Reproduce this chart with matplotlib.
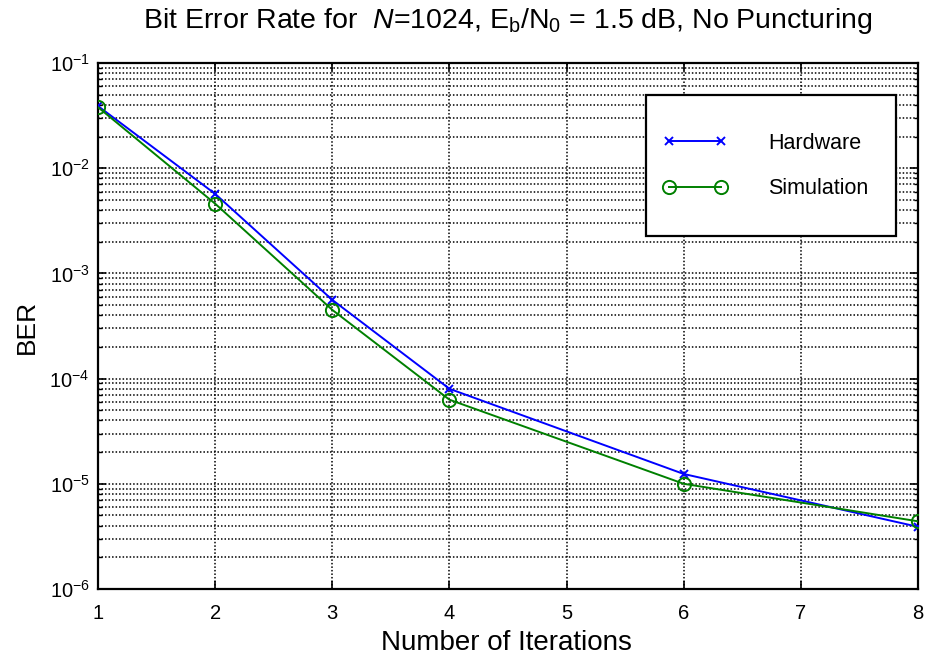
import numpy as np
import matplotlib
matplotlib.use("Agg")
import matplotlib.pyplot as plt
import matplotlib.patches as mpatches

# ─────────────────────────────────────────────
# DATA
# ─────────────────────────────────────────────
iterations = [1, 2, 3, 4, 6, 8]
ber_hardware = [3.9e-2, 5.7e-3, 5.6e-4, 8.0e-5, 1.24e-5, 3.9e-6]
ber_simulation = [3.8e-2, 4.6e-3, 4.5e-4, 6.3e-5, 1.0e-5, 4.4e-6]
series_labels = ["Hardware", "Simulation"]

x_ticks = [1, 2, 3, 4, 5, 6, 7, 8]
y_limits = (1e-6, 1e-1)

plt.rcParams["font.family"] = ["Liberation Sans", "DejaVu Sans"]
plt.rcParams["mathtext.fontset"] = "custom"
plt.rcParams["mathtext.rm"] = "Liberation Sans"
plt.rcParams["mathtext.it"] = "Liberation Sans:italic"
plt.rcParams["mathtext.default"] = "regular"

W, H = 927, 664
fig = plt.figure(figsize=(W / 100, H / 100), dpi=100)
fig.patch.set_facecolor("white")

# axes box in pixels: left 98, right 918, top 63, bottom 589
ax = fig.add_axes([98 / W, 1 - 589 / H, 820 / W, 526 / H])

ax.semilogy(iterations, ber_hardware, color="#0000ff", linewidth=1.4,
            marker="x", markersize=6, markeredgewidth=1.4,
            label=series_labels[0], zorder=3)
ax.semilogy(iterations, ber_simulation, color="#008000", linewidth=1.4,
            marker="o", markersize=9.5, markeredgewidth=1.4,
            markerfacecolor="none", label=series_labels[1], zorder=3)

ax.set_xlim(x_ticks[0], x_ticks[-1])
ax.set_ylim(*y_limits)
ax.set_xticks(x_ticks)
ax.set_xticklabels([str(t) for t in x_ticks])
ax.yaxis.set_major_locator(matplotlib.ticker.LogLocator(base=10, numticks=10))
ax.yaxis.set_minor_locator(matplotlib.ticker.LogLocator(base=10, subs=np.arange(2, 10), numticks=20))
ax.yaxis.set_minor_formatter(matplotlib.ticker.NullFormatter())

# MATLAB-style dotted grid
dots = (0, (1, 1.3))
ax.grid(True, which="major", axis="both", color="black", linestyle=dots, linewidth=1.1)
ax.grid(True, which="minor", axis="y", color="black", linestyle=dots, linewidth=1.1)
ax.set_axisbelow(True)

ax.tick_params(which="both", direction="in", top=True, right=True, colors="black")
ax.tick_params(which="major", length=6, width=1.2)
ax.tick_params(which="minor", length=3, width=1.0)
ax.tick_params(axis="x", labelsize=14.5, pad=11)
ax.tick_params(axis="y", labelsize=14.5, pad=6)
for s in ax.spines.values():
    s.set_linewidth(1.6)
    s.set_color("black")

# title / labels
fig.text(507.5 / W, 1 - 28 / H,
         r"Bit Error Rate for  $\it{N}$=1024, E$_{b}$/N$_{0}$ = 1.5 dB, No Puncturing",
         ha="center", va="baseline", fontsize=20.5)
fig.text(506 / W, 1 - 643 / H, "Number of Iterations",
         ha="center", va="center", fontsize=20)
fig.text(27 / W, 1 - 327 / H, "BER", rotation=90,
         ha="center", va="center", fontsize=19)

# legend box (drawn separately to get MATLAB's wide padding)
x0, x1 = (646 - 98) / 820, (896 - 98) / 820
y0, y1 = (589 - 236) / 526, (589 - 95) / 526
box = mpatches.Rectangle((x0, y0), x1 - x0, y1 - y0, transform=ax.transAxes,
                         facecolor="white", edgecolor="black", linewidth=1.6,
                         zorder=4)
ax.add_patch(box)
leg = ax.legend(loc="center left", bbox_to_anchor=((663 - 98) / 820, (589 - 166) / 526),
                frameon=False, fontsize=15.5, numpoints=2,
                handlelength=3.0, handletextpad=1.9, labelspacing=1.15,
                borderpad=0, borderaxespad=0)
leg.set_zorder(5)

fig.savefig("out.png", dpi=100, facecolor=fig.get_facecolor())
